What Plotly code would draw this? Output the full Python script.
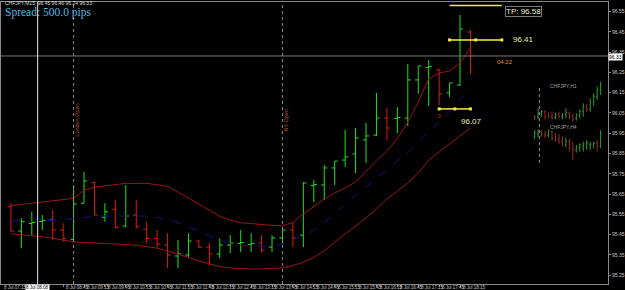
import plotly.graph_objects as go

# ---------------- data ----------------
bar_index = list(range(45))
opens = [95.588, 95.468, 95.505, 95.515, 95.526, 95.473, 95.427, 95.605, 95.708, 95.536,
         95.575, 95.493, 95.547, 95.477, 95.432, 95.399, 95.345, 95.350, 95.419, 95.389,
         95.355, 95.399, 95.407, 95.402, 95.409, 95.389, 95.434, 95.473, 95.448, 95.692,
         95.695, 95.779, 95.818, 95.848, 95.917, 95.941, 96.025, 96.023, 96.025, 96.213,
         96.274, 96.262, 96.149, 96.188, 96.449]
highs = [95.605, 95.531, 95.563, 95.547, 95.572, 95.506, 95.687, 95.760, 95.711, 95.605,
         95.621, 95.695, 95.621, 95.514, 95.473, 95.457, 95.424, 95.457, 95.424, 95.409,
         95.432, 95.448, 95.473, 95.457, 95.448, 95.448, 95.477, 95.513, 95.710, 95.720,
         95.794, 95.813, 95.966, 95.976, 96.001, 96.149, 96.075, 96.079, 96.291, 96.282,
         96.311, 96.267, 96.198, 96.533, 96.459]
lows = [95.465, 95.383, 95.448, 95.473, 95.424, 95.415, 95.424, 95.605, 95.547, 95.514,
        95.481, 95.486, 95.481, 95.407, 95.389, 95.286, 95.286, 95.340, 95.384, 95.300,
        95.335, 95.360, 95.365, 95.365, 95.360, 95.365, 95.404, 95.389, 95.389, 95.611,
        95.621, 95.695, 95.784, 95.754, 95.803, 95.937, 95.917, 95.951, 95.986, 96.144,
        96.084, 96.089, 96.129, 96.183, 96.242]
closes = [95.468, 95.514, 95.510, 95.520, 95.473, 95.432, 95.601, 95.715, 95.547, 95.563,
          95.486, 95.542, 95.489, 95.432, 95.404, 95.350, 95.355, 95.419, 95.389, 95.355,
          95.399, 95.409, 95.411, 95.407, 95.374, 95.434, 95.473, 95.434, 95.705, 95.697,
          95.779, 95.813, 95.833, 95.927, 95.937, 96.025, 95.976, 96.028, 96.213, 96.282,
          96.279, 96.144, 96.198, 96.464, 96.331]

band_upper = [95.593, 95.599, 95.605, 95.610, 95.617, 95.623, 95.629, 95.668, 95.685, 95.691,
              95.697, 95.703, 95.703, 95.703, 95.696, 95.688, 95.660, 95.631, 95.601, 95.569,
              95.541, 95.522, 95.509, 95.505, 95.500, 95.496, 95.494, 95.510, 95.552, 95.591,
              95.626, 95.656, 95.680, 95.710, 95.759, 95.813, 95.863, 95.922, 96.006, 96.104,
              96.218, 96.247, 96.257, 96.296, 96.370]
band_lower = [95.454, 95.450, 95.446, 95.440, 95.432, 95.424, 95.415, 95.412, 95.410, 95.407,
              95.404, 95.401, 95.398, 95.392, 95.384, 95.370, 95.355, 95.338, 95.320, 95.306,
              95.293, 95.286, 95.283, 95.281, 95.281, 95.283, 95.287, 95.298, 95.315, 95.338,
              95.370, 95.414, 95.453, 95.493, 95.532, 95.577, 95.626, 95.665, 95.705, 95.754,
              95.818, 95.858, 95.897, 95.937, 95.976]
band_middle = [95.520, 95.517, 95.516, 95.515, 95.520, 95.526, 95.531, 95.535, 95.540, 95.542,
               95.542, 95.542, 95.542, 95.542, 95.535, 95.525, 95.508, 95.488, 95.468, 95.444,
               95.424, 95.409, 95.399, 95.394, 95.394, 95.394, 95.404, 95.424, 95.444, 95.473,
               95.513, 95.552, 95.601, 95.641, 95.685, 95.730, 95.769, 95.813, 95.855, 95.907,
               95.956, 96.006, 96.060, 96.114, 96.173]

price_ticks = [96.55, 96.45, 96.35, 96.25, 96.15, 96.05, 95.95, 95.85, 95.75, 95.65,
               95.55, 95.45, 95.35, 95.25]
price_tick_text = ["96.55", "96.45", "96.35", "96.25", "96.15", "96.05", "95.95", "95.85",
                   "95.75", "95.65", "95.55", "95.45", "95.35", "95.25"]

time_label_pos = [-1, 5, 7, 9, 11, 13, 15, 17, 19, 21, 23, 25, 27, 29, 31, 33, 35, 37, 39, 41, 43]
time_labels = ["8 Jul 07:15", "8 Jul 08:45", "8 Jul 09:15",
               "8 Jul 09:45", "8 Jul 10:15", "8 Jul 10:45", "8 Jul 11:15", "8 Jul 11:45",
               "8 Jul 12:15", "8 Jul 12:45", "8 Jul 13:15", "8 Jul 13:45", "8 Jul 14:15",
               "8 Jul 14:45", "8 Jul 15:15", "8 Jul 15:45", "8 Jul 16:15", "8 Jul 16:45",
               "8 Jul 17:15", "8 Jul 17:45", "8 Jul 18:15"]

session_pos = [6, 26]
session_names = ["London Open", "NY Open"]
marker_line_pos = 2.56
marker_line_label = "8 Jul 08:08"

tp_level = 96.58
entry_level = 96.41
low_level = 96.07
level_start = [42, 42, 41]
level_end = [47, 47, 44]
current_price = 96.331

# mini charts (H1 and H4)
mini_idx = list(range(20))
h1_open = [95.95, 95.95, 96.00, 96.025, 95.96, 95.95, 95.94, 95.975, 95.95, 95.98,
           96.00, 95.95, 95.92, 95.97, 96.025, 96.10, 96.06, 96.17, 96.25, 96.35]
h1_high = [95.975, 96.075, 96.05, 96.04, 96.01, 96.025, 96.01, 96.025, 96.00, 96.075,
           96.025, 95.99, 96.00, 96.06, 96.15, 96.14, 96.225, 96.30, 96.40, 96.475]
h1_low = [95.90, 95.91, 95.94, 95.91, 95.925, 95.91, 95.91, 95.925, 95.91, 95.925,
          95.91, 95.875, 95.89, 95.925, 95.95, 96.025, 96.025, 96.11, 96.20, 96.275]
h1_close = [95.925, 96.00, 96.025, 95.95, 95.94, 95.925, 95.975, 95.95, 95.99, 96.01,
            95.94, 95.91, 95.975, 96.025, 96.10, 96.06, 96.175, 96.25, 96.35, 96.425]
h4_open = [95.65, 95.69, 95.725, 95.685, 95.67, 95.72, 95.64, 95.61, 95.58, 95.525,
           95.57, 95.485, 95.45, 95.49, 95.51, 95.525, 95.525, 95.525, 95.55, 95.51]
h4_high = [95.75, 95.76, 95.75, 95.74, 95.76, 95.75, 95.70, 95.69, 95.66, 95.64,
           95.62, 95.575, 95.525, 95.55, 95.575, 95.60, 95.575, 95.575, 95.60, 95.75]
h4_low = [95.61, 95.64, 95.65, 95.625, 95.64, 95.59, 95.575, 95.54, 95.50, 95.49,
          95.425, 95.30, 95.41, 95.425, 95.425, 95.45, 95.45, 95.475, 95.425, 95.475]
h4_close = [95.70, 95.725, 95.675, 95.66, 95.725, 95.625, 95.60, 95.575, 95.525, 95.575,
            95.475, 95.45, 95.50, 95.525, 95.54, 95.55, 95.54, 95.55, 95.50, 95.70]

# ---------------- figure ----------------
GREEN = "#1fe01f"
RED = "#e01818"
BAND = "#a01414"
MID = "#141482"
FONT = "Liberation Sans"

fig = go.Figure()

fig.add_trace(go.Scatter(x=bar_index, y=band_upper, mode="lines",
                         line=dict(color=BAND, width=1), hoverinfo="skip"))
fig.add_trace(go.Scatter(x=bar_index, y=band_lower, mode="lines",
                         line=dict(color=BAND, width=1), hoverinfo="skip"))
fig.add_trace(go.Scatter(x=bar_index, y=band_middle, mode="lines",
                         line=dict(color=MID, width=1, dash="dash"), hoverinfo="skip"))

fig.add_trace(go.Ohlc(x=bar_index, open=opens, high=highs, low=lows, close=closes,
                      increasing=dict(line=dict(color=GREEN, width=1)),
                      decreasing=dict(line=dict(color=RED, width=1)),
                      tickwidth=0.3, hoverinfo="skip"))

# trade levels
levels = [tp_level, entry_level, low_level]
for k, lv in enumerate(levels):
    xs = [level_start[k], level_end[k]]
    if k == 0:
        fig.add_trace(go.Scatter(x=xs, y=[lv, lv], mode="lines",
                                 line=dict(color="#f0f040", width=1.5), hoverinfo="skip"))
    else:
        mid = (level_start[k] + level_end[k]) / 2
        fig.add_trace(go.Scatter(x=[level_start[k], mid, level_end[k]], y=[lv, lv, lv],
                                 mode="lines+markers",
                                 line=dict(color="#f0f040", width=1.5),
                                 marker=dict(symbol="square", size=3, color="#f0f040"),
                                 hoverinfo="skip"))

# mini charts
fig.add_trace(go.Ohlc(x=mini_idx, open=h1_open, high=h1_high, low=h1_low, close=h1_close,
                      xaxis="x2", yaxis="y2",
                      increasing=dict(line=dict(color="#2f9a2f", width=1)),
                      decreasing=dict(line=dict(color="#9a2c2c", width=1)),
                      tickwidth=0.3, hoverinfo="skip"))
fig.add_trace(go.Ohlc(x=mini_idx, open=h4_open, high=h4_high, low=h4_low, close=h4_close,
                      xaxis="x3", yaxis="y3",
                      increasing=dict(line=dict(color="#2f9a2f", width=1)),
                      decreasing=dict(line=dict(color="#9a2c2c", width=1)),
                      tickwidth=0.3, hoverinfo="skip"))

shapes = []
# current price line
shapes.append(dict(type="line", xref="paper", yref="y", x0=0, x1=1,
                   y0=current_price, y1=current_price,
                   line=dict(color="#7a7a7a", width=1)))
# session lines
for p in session_pos:
    shapes.append(dict(type="line", xref="x", yref="paper", x0=p, x1=p, y0=0, y1=1,
                       line=dict(color="#8a8a8a", width=1, dash="dot")))
# white marker line
shapes.append(dict(type="line", xref="x", yref="paper", x0=marker_line_pos, x1=marker_line_pos,
                   y0=0, y1=1, line=dict(color="#e8e8e8", width=1)))
# mini chart separator
shapes.append(dict(type="line", xref="paper", yref="paper", x0=0.887, x1=0.887,
                   y0=0.429, y1=0.695, line=dict(color="#8a8a8a", width=1, dash="dot")))

ann = []
ann.append(dict(text="CHFJPY,M15  96.45 96.46 96.24 96.33", xref="paper", yref="paper",
                x=0.004, y=0.997, xanchor="left", yanchor="middle", showarrow=False,
                font=dict(family=FONT, size=5, color="#d8d8d8")))
ann.append(dict(text="Spread: 500.0 pips", xref="paper", yref="paper",
                x=0.003, y=0.962, xanchor="left", yanchor="middle", showarrow=False,
                font=dict(family="Liberation Serif", size=11.5, color="#4fb8e6")))
ann.append(dict(text="TP: 96.58", xref="x", yref="y", x=49.05, y=96.548,
                xanchor="center", yanchor="middle", showarrow=False,
                bgcolor="#000000", bordercolor="#7a7a7a", borderwidth=1, borderpad=0,
                font=dict(family=FONT, size=8, color="#eeeec8")))
ann.append(dict(text="96.41", xref="x", yref="y", x=49.05, y=entry_level,
                xanchor="center", yanchor="middle", showarrow=False,
                font=dict(family=FONT, size=8, color="#eeeeb0")))
ann.append(dict(text="96.07", xref="x", yref="y", x=44.1, y=96.008,
                xanchor="center", yanchor="middle", showarrow=False,
                font=dict(family=FONT, size=8, color="#eeeeb0")))
ann.append(dict(text="04:22", xref="x", yref="y", x=47.3, y=96.302,
                xanchor="center", yanchor="middle", showarrow=False,
                font=dict(family=FONT, size=6, color="#e8902a")))
ann.append(dict(text="0", xref="x", yref="y", x=41.0, y=96.035,
                xanchor="center", yanchor="middle", showarrow=False,
                font=dict(family=FONT, size=5, color="#e02020")))
for p, name in zip(session_pos, session_names):
    ann.append(dict(text=name, xref="x", yref="paper", x=p + 0.35, y=0.58,
                    xanchor="center", yanchor="middle", textangle=-90, showarrow=False,
                    font=dict(family=FONT, size=5.5, color="#b8502e")))
# current price box
ann.append(dict(text=f"{current_price:.2f}", xref="paper", yref="y", x=1.0, y=current_price,
                xanchor="left", yanchor="middle", yshift=-1, showarrow=False, bgcolor="#ffffff",
                borderpad=0, font=dict(family=FONT, size=5, color="#000000")))
# time labels
for p, t in zip(time_label_pos, time_labels):
    ann.append(dict(text=t, xref="x", yref="paper", x=p + 0.1, y=-0.011,
                    xanchor="left", yanchor="middle", showarrow=False,
                    font=dict(family=FONT, size=4.5, color="#c8c8c8")))
ann.append(dict(text=marker_line_label, xref="x", yref="paper", x=marker_line_pos, y=-0.011,
                xanchor="center", yanchor="middle", showarrow=False, bgcolor="#ffffff",
                borderpad=0, font=dict(family=FONT, size=4.5, color="#000000")))
# mini titles
ann.append(dict(text="CHFJPY,H1", xref="paper", yref="paper", x=0.927, y=0.701,
                xanchor="center", yanchor="middle", showarrow=False,
                font=dict(family=FONT, size=5, color="#a0a0a0")))
ann.append(dict(text="CHFJPY,H4", xref="paper", yref="paper", x=0.927, y=0.557,
                xanchor="center", yanchor="middle", showarrow=False,
                font=dict(family=FONT, size=5, color="#a0a0a0")))

fig.update_layout(
    width=625, height=290,
    margin=dict(l=0, r=13, t=2, b=6),
    paper_bgcolor="#000000", plot_bgcolor="#000000",
    showlegend=False,
    shapes=shapes, annotations=ann,
    xaxis=dict(range=[-0.95, 57.17], showgrid=False, zeroline=False,
               showline=True, linecolor="#8a8a8a", linewidth=1, mirror=True,
               tickvals=time_label_pos, ticks="outside", ticklen=2, tickcolor="#8a8a8a",
               showticklabels=False, rangeslider=dict(visible=False), fixedrange=True),
    yaxis=dict(range=[95.207, 96.597], side="right", showgrid=False, zeroline=False,
               showline=True, linecolor="#8a8a8a", linewidth=1, mirror=True,
               tickvals=price_ticks, ticktext=price_tick_text, ticks="outside", ticklen=2,
               tickcolor="#8a8a8a", tickfont=dict(family=FONT, size=5, color="#c8c8c8"),
               fixedrange=True),
    xaxis2=dict(domain=[0.874, 0.993], anchor="y2", range=[-0.9, 19.9], visible=False,
                rangeslider=dict(visible=False)),
    yaxis2=dict(domain=[0.571, 0.720], anchor="x2", range=[95.855, 96.485], visible=False),
    xaxis3=dict(domain=[0.874, 0.993], anchor="y3", range=[-0.9, 19.9], visible=False,
                rangeslider=dict(visible=False)),
    yaxis3=dict(domain=[0.433, 0.553], anchor="x3", range=[95.27, 95.78], visible=False),
)

fig.write_html("out.html")
